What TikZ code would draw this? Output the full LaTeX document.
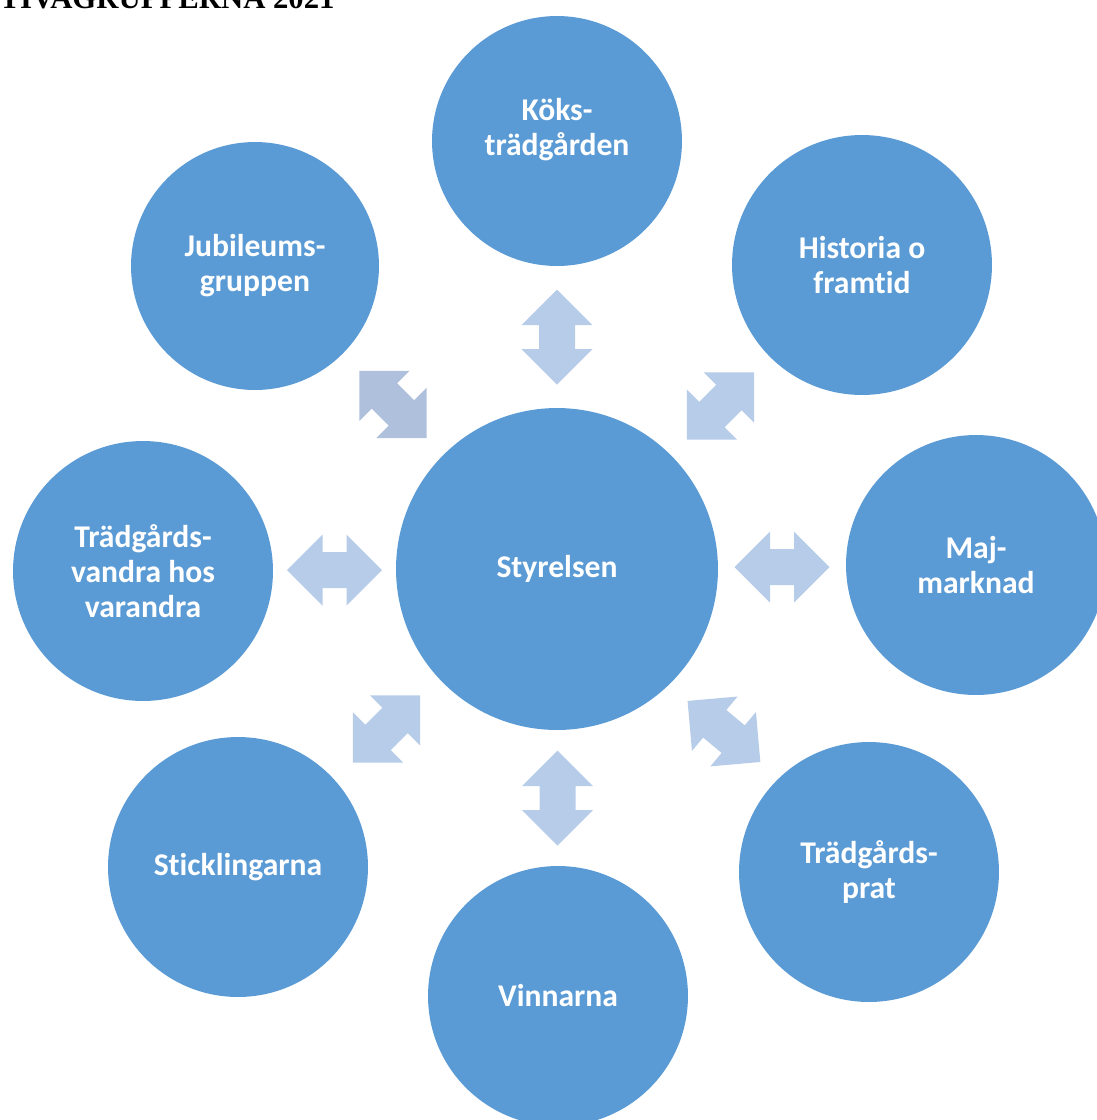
\documentclass[tikz,border=0pt]{standalone}
\usepackage{fontspec}
\setmainfont[Ligatures=NoCommon]{Carlito}
\newfontfamily\titlefont{Liberation Serif}
\usetikzlibrary{positioning,calc}
\definecolor{grpblue}{HTML}{5B9BD5}
\definecolor{arrblue}{HTML}{B7CCE9}
\definecolor{arrdark}{HTML}{AEC0DC}

\begin{document}
\begin{tikzpicture}[x=0.02cm, y=-0.02cm,
	grp/.style={circle, fill=grpblue, minimum size=5.2cm, inner sep=0pt,
		text=white, align=center, font=\bfseries\fontsize{18}{20}\selectfont},
	grptext/.style={text=white, align=center, inner sep=0pt,
		font=\bfseries\fontsize{18}{20}\selectfont},
	dblarr/.pic={
		\fill (-47.5,0) -- (-12,-35.5) -- (-12,-18) -- (12,-18) -- (12,-35.5)
			-- (47.5,0) -- (12,35.5) -- (12,18) -- (-12,18) -- (-12,35.5) -- cycle;
	}]

	\useasboundingbox (0,0) rectangle (1097,1120);

	\node[anchor=base east, inner sep=0pt,
		font=\titlefont\bfseries\fontsize{17.5}{20}\selectfont] (title) at (335,8) {TIVAGRUPPERNA 2021};

	% centre and groups
	\node[grp, minimum size=6.44cm] (sty) at (557,569) {Styrelsen};
	\node[grp, minimum size=5cm] (koks) at (557,141) {};
	\node[grptext] (kokstext) at (557,130) {Köks-\\trädgården};
	\node[grp] (hist) at (862,265) {Historia o\\framtid};
	\node[grp] (maj) at (976,565) {Maj-\\marknad};
	\node[grp] (prat) at (869,872) {Trädgårds-\\prat};
	\node[grp] (vinn) at (558,996) {Vinnarna};
	\node[grp] (stick) at (238,867) {Sticklingarna};
	\node[grp] (vandra) at (143,571) {Trädgårds-\\vandra hos\\varandra};
	\node[grp, minimum size=4.96cm] (jub) at (255,266) {Jubileums-\\gruppen};

	% double arrows
	\pic[fill=arrblue, rotate=90] at ($(sty.north)!.5!(koks.south)$) {dblarr};
	\pic[fill=arrblue, rotate=45] at ($(sty.north east)!.5!(hist.south west)$) {dblarr};
	\pic[fill=arrblue] at ($(sty.east)!.5!(maj.west)$) {dblarr};
	\pic[fill=arrblue, rotate=-40] at ($(sty.south east)!.5!(prat.north west)$) {dblarr};
	\pic[fill=arrblue, rotate=90] at ($(sty.south)!.5!(vinn.north)$) {dblarr};
	\pic[fill=arrblue, rotate=45] at ($(sty.south west)!.5!(stick.north east)$) {dblarr};
	\pic[fill=arrblue] at ($(sty.west)!.5!(vandra.east)$) {dblarr};
	\pic[fill=arrdark, rotate=-45] at ($(sty.north west)!.5!(jub.south east)$) {dblarr};

\end{tikzpicture}
\end{document}
